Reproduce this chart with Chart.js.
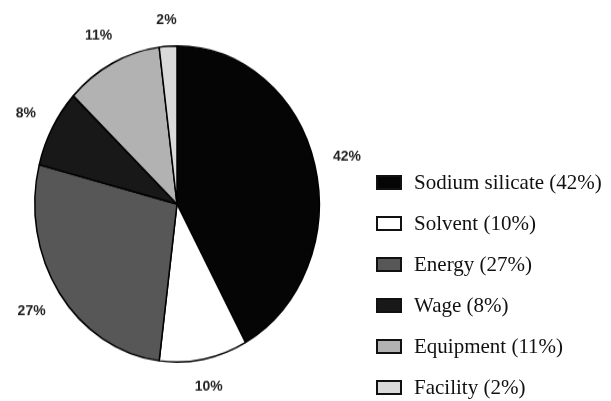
<!DOCTYPE html>
<html>
<head>
<meta charset="utf-8">
<script src="https://cdn.jsdelivr.net/npm/chart.js@4"></script>
<style>
    html, body { margin: 0; padding: 0; background: #fff; }
    #wrap { position: relative; width: 611px; height: 401px; overflow: hidden; }
    /* the original pie is a little taller than wide, so the canvas is stretched vertically */
    #pie { position: absolute; left: 0; top: 24px; transform-origin: 177px 180px; transform: scaleY(1.111); }
    #legend { position: absolute; left: 376px; top: 162px; list-style: none; margin: 0; padding: 0;
              font-family: "Liberation Serif", "Times New Roman", serif; font-size: 21px; color: #111; }
    #legend li { display: flex; align-items: center; height: 41px; white-space: nowrap; }
    #legend .box { width: 22px; height: 11px; border: 2px solid #111; margin-right: 12px; flex: none; }
</style>
</head>
<body>
<div id="wrap">
    <canvas id="pie" width="400" height="360"></canvas>
    <ul id="legend"></ul>
</div>
<script>
const categories = ['Sodium silicate', 'Solvent', 'Energy', 'Wage', 'Equipment', 'Facility'];
const shares = [42, 10, 27, 8, 11, 2];
const sliceColors = ['#050505', '#ffffff', '#575757', '#181818', '#b2b2b2', '#dadada'];

const STRETCH = 1.111;

// percentage labels outside the rim, drawn unstretched
const pctLabels = {
    id: 'pctLabels',
    afterDatasetsDraw(chart) {
        const ctx = chart.ctx;
        const meta = chart.getDatasetMeta(0);
        ctx.save();
        ctx.font = 'bold 14px "Liberation Sans", Arial, sans-serif';
        ctx.fillStyle = '#222';
        ctx.textAlign = 'center';
        ctx.textBaseline = 'middle';
        meta.data.forEach((arc, i) => {
            const p = arc.getProps(['x', 'y', 'startAngle', 'endAngle', 'outerRadius'], true);
            const mid = (p.startAngle + p.endAngle) / 2;
            const c = Math.cos(mid), s = Math.sin(mid);
            const text = shares[i] + '%';
            const hw = ctx.measureText(text).width / 2;
            const off = 18 + hw * Math.abs(c) + 7 * Math.abs(s);
            const dx = (p.outerRadius + off) * c;
            const dy = (p.outerRadius * STRETCH + off) * s;
            ctx.save();
            ctx.translate(p.x, p.y);
            ctx.scale(1, 1 / STRETCH);
            ctx.fillText(text, dx, dy);
            ctx.restore();
        });
        ctx.restore();
    }
};

// simple html legend built from the chart's own items
const htmlLegend = {
    id: 'htmlLegend',
    afterUpdate(chart) {
        const ul = document.getElementById('legend');
        ul.innerHTML = '';
        const items = chart.options.plugins.legend.labels.generateLabels(chart);
        items.forEach((item, i) => {
            const li = document.createElement('li');
            const box = document.createElement('span');
            box.className = 'box';
            box.style.background = item.fillStyle;
            const txt = document.createElement('span');
            txt.textContent = `${categories[i]} (${shares[i]}%)`;
            li.appendChild(box);
            li.appendChild(txt);
            ul.appendChild(li);
        });
    }
};

new Chart(document.getElementById('pie'), {
    type: 'pie',
    data: {
        labels: categories,
        datasets: [{
            data: shares,
            backgroundColor: sliceColors,
            borderColor: '#000',
            borderWidth: 1.5
        }]
    },
    options: {
        responsive: false,
        animation: false,
        devicePixelRatio: 1,
        layout: { padding: { top: 37, bottom: 37, left: 34, right: 80 } },
        plugins: {
            legend: { display: false },
            tooltip: { enabled: false }
        }
    },
    plugins: [pctLabels, htmlLegend]
});
</script>
</body>
</html>
